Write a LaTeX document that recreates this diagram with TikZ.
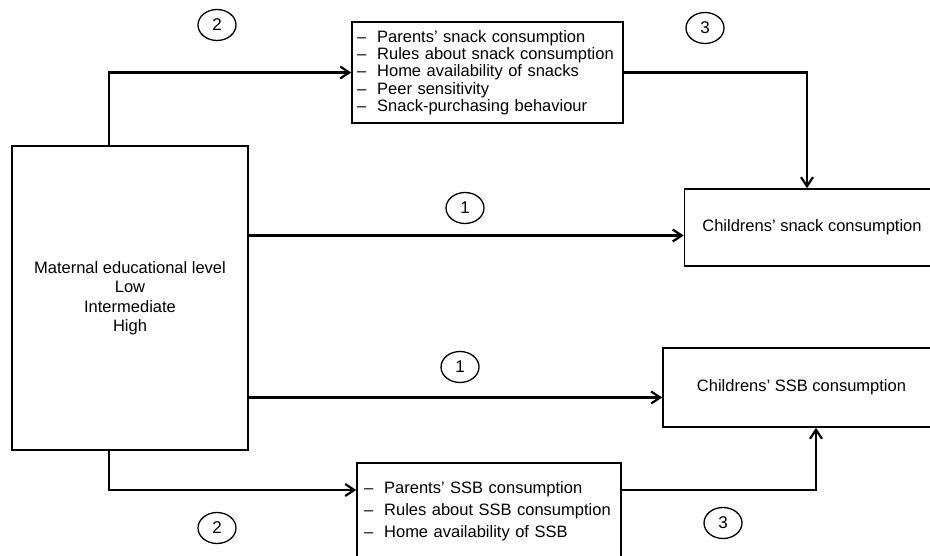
\documentclass[tikz,border=0pt]{standalone}
\usepackage{fontspec}
\setmainfont{Liberation Sans}
\usepackage{tikz}
\usetikzlibrary{arrows.meta,positioning,shapes.geometric,calc}

\begin{document}
\begin{tikzpicture}[x=1pt, y=1pt,
  box/.style={draw, line width=1.6pt, inner sep=0pt, font=\fontsize{16.5}{17.3}\selectfont},
  num/.style={draw, ellipse, line width=1.3pt, minimum width=38pt, minimum height=31pt,
              inner sep=0pt, font=\fontsize{17}{17}\selectfont},
  arr/.style={line width=2.2pt, -{Straight Barb[length=9pt, width=12pt]}},
  link/.style={line width=2.2pt}]
  \useasboundingbox (0,0) rectangle (930,555);
  % boxes
  \node[box, minimum width=236pt, minimum height=304pt, align=center,
        font=\fontsize{16.5}{19.5}\selectfont] (edu) at (130,257)
       {Maternal educational level\\ Low\\ Intermediate\\ High};
  \node[box, minimum width=271pt, minimum height=101pt, text width=261pt, align=left] (medsnack) at (487.5,482.5)
       {-- \ Parents’ snack consumption\\ -- \ Rules about snack consumption\\
        -- \ Home availability of snacks\\ -- \ Peer sensitivity\\ -- \ Snack-purchasing behaviour};
  \node[box, minimum width=264pt, minimum height=97pt, text width=250pt, align=left,
        font=\fontsize{16.5}{22}\selectfont] (medssb) at (489,43.5)
       {-- \ Parents’ SSB consumption\\ -- \ Rules about SSB consumption\\ -- \ Home availability of SSB};
  \node[box, minimum width=255pt, minimum height=77pt] (snack) at (812,327.5) {Childrens’ snack consumption};
  \node[box, minimum width=277pt, minimum height=79pt] (ssb) at (801.5,167.5) {Childrens’ SSB consumption};
  % path numbers
  \node[num] (n2a) at (217,530) {2};
  \node[num] (n3a) at (705,527) {3};
  \node[num] (n1a) at (465,347) {1};
  \node[num] (n1b) at (460,188) {1};
  \node[num] (n2b) at (217,27) {2};
  \node[num] (n3b) at (723,32) {3};
  % connectors
  \coordinate (insnack) at ([yshift=-8pt]snack.west);
  \coordinate (inssb) at ([yshift=-10pt]ssb.west);
  \draw[arr] ([xshift=-21pt]edu.north) |- (medsnack.west);
  \draw[arr] (medsnack.east) -| ([xshift=-5pt]snack.north);
  \draw[arr] (edu.east |- insnack) -- (insnack);
  \draw[arr] (edu.east |- inssb) -- (inssb);
  \draw[arr] ([xshift=-21pt]edu.south) |- ([yshift=21.5pt]medssb.west);
  \draw[arr] ([yshift=21.5pt]medssb.east) -| ([xshift=14.5pt]ssb.south);
\end{tikzpicture}
\end{document}
